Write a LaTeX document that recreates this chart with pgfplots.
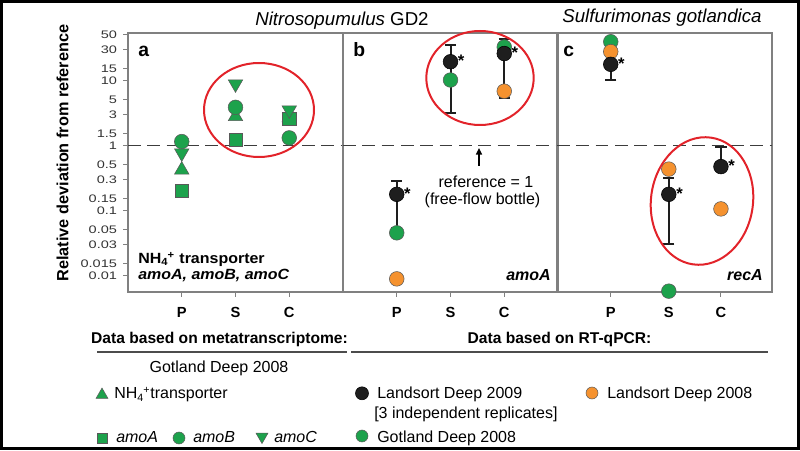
\documentclass[border=0pt]{standalone}
\usepackage{fontspec}
\setmainfont{Liberation Sans}
\usepackage{pgfplots}
\pgfplotsset{compat=1.18}
\usetikzlibrary{shapes.geometric,arrows.meta}

\definecolor{mgreen}{HTML}{1DA24C}
\definecolor{morange}{HTML}{F5922F}
\definecolor{mblack}{HTML}{1E1E1E}
\definecolor{framegray}{HTML}{808080}
\definecolor{refgray}{HTML}{3C3C3C}
\definecolor{ringred}{HTML}{E2232A}

\pgfplotsset{
  mypanel/.style={
    scale only axis, width=161.25pt, height=194.25pt,
    ymin=0.00553, ymax=53.4, xmin=-1, xmax=3,
    axis line style={draw=framegray, line width=1pt},
    tick style={draw=framegray, line width=0.8pt},
    major tick length=3.75pt, tick align=outside,
    xtick pos=bottom, ytick pos=left,
    yminorticks=false, xminorticks=false,
    xticklabels={P,S,C},
    xticklabel style={font=\bfseries\fontsize{11}{13}\selectfont, yshift=-4pt},
    yticklabel style={font=\fontsize{8.2}{9}\selectfont, text=black!80,
      xscale=1.33, inner sep=0.6pt, xshift=-2.6pt},
  },
  gmark/.style={only marks, mark options={fill=mgreen, draw=black!65, line width=0.4pt}},
  gcirc/.style={gmark, mark=*, mark size=5.5pt},
  gsq/.style={gmark, mark=square*, mark size=4.9pt},
  gtri/.style={gmark, mark=triangle*, mark size=6.3pt},
  gdtri/.style={only marks, mark=triangle*, mark size=6.3pt,
    mark options={rotate=180, fill=mgreen, draw=black!65, line width=0.4pt}},
  ocirc/.style={only marks, mark=*, mark size=5.5pt,
    mark options={fill=morange, draw=black!65, line width=0.4pt}},
  bcirc/.style={only marks, mark=*, mark size=5.5pt,
    mark options={fill=mblack, draw=black, line width=0.4pt},
    nodes near coords={*},
    nodes near coords style={anchor=base west, inner sep=0pt, xshift=5.4pt, yshift=-3.6pt,
      font=\bfseries\fontsize{12.5}{12}\selectfont, text=black}},
  bars/.style={error bars/.cd, y dir=both, y explicit,
    error bar style={draw=mblack, line width=1.5pt},
    error mark options={rotate=90, mark size=4.2pt, line width=1.5pt, draw=mblack}},
  refline/.style={refgray, line width=1.1pt, dash pattern=on 9.5pt off 5pt, forget plot},
}

\begin{document}
\begin{tikzpicture}
\useasboundingbox (0,0) rectangle (600pt,337.5pt);

% (a) metatranscriptome, Gotland Deep 2008
\begin{axis}[mypanel, ymode=log, xtick={0,1,2},
  ytick={0.01,0.015,0.03,0.05,0.1,0.15,0.3,0.5,1,1.5,3,5,10,15,30,50},
  yticklabels={0.01,0.015,0.03,0.05,0.1,0.15,0.3,0.5,1,1.5,3,5,10,15,30,50},
  clip=false, at={(96pt,118.5pt)}, anchor=south west]
\addplot[gtri] coordinates {(0,0.417) (1,2.77) (2,2.65)};
\addplot[gsq] coordinates {(0,0.198) (1,1.21) (2,2.55)};
\addplot[gdtri] coordinates {(0,0.76) (1,8.77) (2,3.49)};
\addplot[gcirc] coordinates {(0,1.14) (1,3.84) (2,1.30)};
\addplot[refline] coordinates {(-1,1) (3,1)};
\end{axis}

% (b) amoA, RT-qPCR
\begin{axis}[mypanel, ymode=log, xtick={0,1,2}, ytick=\empty,
  clip=false, at={(257.25pt,118.5pt)}, anchor=south west]
\addplot[gcirc] coordinates {(0,0.045) (1,10.1) (2,32.5)};
\addplot[ocirc] coordinates {(0,0.0088) (2,6.8)};
\addplot[bcirc, bars] coordinates {
  (0,0.176) += (0,0.106) -= (0,0.123)
  (1,19.3)  += (0,15.6)  -= (0,16.2)
  (2,25.8)  += (0,17.4)  -= (0,20.5)
};
\addplot[refline] coordinates {(-1,1) (3,1)};
\end{axis}

% (c) recA, RT-qPCR
\begin{axis}[mypanel, ymode=log, xtick={0,1.08,2.05}, ytick=\empty,
  clip=false, at={(417.75pt,118.5pt)}, anchor=south west]
\addplot[gcirc] coordinates {(0,39.2) (1.08,0.0057)};
\addplot[ocirc] coordinates {(0,27.6) (1.08,0.43) (2.05,0.105)};
\addplot[bcirc, bars] coordinates {
  (0,17.6)     += (0,0)     -= (0,7.5)
  (1.08,0.176) += (0,0.141) -= (0,0.146)
  (2.05,0.47)  += (0,0.48)  -= (0,0)
};
\addplot[refline] coordinates {(-1,1) (3,1)};
\end{axis}

\begin{scope}[x=0.75pt,y=0.75pt]
\draw[line width=2.25pt] (1.5,1.5) rectangle (798.5,448.5);

% titles
\node[anchor=base, inner sep=0, font=\fontsize{14}{16}\selectfont] at (342,424)
  {\textit{Nitrosopumulus} GD2};
\node[anchor=base, inner sep=0, font=\fontsize{14}{16}\selectfont\itshape] at (662,427.3)
  {Sulfurimonas gotlandica};
\node[rotate=90, inner sep=0, font=\bfseries\fontsize{12.2}{14}\selectfont] at (62.5,297)
  {Relative deviation from reference};

% panel letters and labels
\node[anchor=base west, inner sep=0, font=\bfseries\fontsize{14.5}{16}\selectfont] at (138,393) {a};
\node[anchor=base west, inner sep=0, font=\bfseries\fontsize{14.5}{16}\selectfont] at (353,393) {b};
\node[anchor=base west, inner sep=0, font=\bfseries\fontsize{14.5}{16}\selectfont] at (563,393) {c};
\node[anchor=base west, inner sep=0, xscale=1.08, font=\bfseries\fontsize{11.1}{13}\selectfont] at (138,186.2)
  {NH\textsubscript{4}\kern-0.4pt\textsuperscript{+} transporter};
\node[anchor=base west, inner sep=0, xscale=1.08, font=\bfseries\itshape\fontsize{11.1}{13}\selectfont] at (138,170.3)
  {amoA, amoB, amoC};
\node[anchor=base east, inner sep=0, font=\bfseries\itshape\fontsize{12}{14}\selectfont] at (551,169) {amoA};
\node[anchor=base east, inner sep=0, font=\bfseries\itshape\fontsize{12}{14}\selectfont] at (763,169) {recA};
\node[anchor=base, inner sep=0, font=\fontsize{12}{14}\selectfont] at (486,262.7) {reference = 1};
\node[anchor=base, inner sep=0, font=\fontsize{12}{14}\selectfont] at (482.5,245) {(free-flow bottle)};
\draw[-{Triangle[length=5pt,width=4.5pt]}, line width=1.1pt] (479,284) -- (479,302);

% red rings
\draw[ringred, line width=1.5pt] (259,340) ellipse [x radius=55, y radius=47];
\draw[ringred, line width=1.5pt] (480,372) ellipse [x radius=53.7, y radius=47];
\draw[ringred, line width=1.5pt, rotate around={-8:(702,249)}] (702,249) ellipse [x radius=51, y radius=64];

% legend block
\node[anchor=base, inner sep=0, font=\bfseries\fontsize{11.7}{14}\selectfont] at (219.5,106.5)
  {Data based on metatranscriptome:};
\node[anchor=base, inner sep=0, font=\bfseries\fontsize{11.7}{14}\selectfont] at (559.5,106.5)
  {Data based on RT-qPCR:};
\draw[black!70, line width=1.1pt] (97,98) -- (347,98);
\draw[black!70, line width=1.1pt] (351,98) -- (768,98);
\node[anchor=base, inner sep=0, font=\fontsize{12}{14}\selectfont] at (219,77.3) {Gotland Deep 2008};

\node[regular polygon, regular polygon sides=3, fill=mgreen, draw=black!65, inner sep=0,
  minimum size=10.4pt] at (102,55) {};
\node[anchor=base west, inner sep=0, font=\fontsize{12}{14}\selectfont] at (114,51)
  {NH\textsubscript{4}\kern-0.4pt\textsuperscript{+}transporter};
\node[rectangle, fill=mgreen, draw=black!65, inner sep=0, minimum size=7.5pt] at (102,12) {};
\node[anchor=base west, inner sep=0, font=\itshape\fontsize{12}{14}\selectfont] at (116,7.3) {amoA};
\node[circle, fill=mgreen, draw=black!65, inner sep=0, minimum size=9pt] at (179,12) {};
\node[anchor=base west, inner sep=0, font=\itshape\fontsize{12}{14}\selectfont] at (193,7.3) {amoB};
\node[regular polygon, regular polygon sides=3, shape border rotate=180, fill=mgreen,
  draw=black!65, inner sep=0, minimum size=10.4pt] at (262,13.4) {};
\node[anchor=base west, inner sep=0, font=\itshape\fontsize{12}{14}\selectfont] at (274,7.3) {amoC};

\node[circle, fill=mblack, draw=black, inner sep=0, minimum size=9.75pt] at (362,56.7) {};
\node[anchor=base west, inner sep=0, font=\fontsize{12}{14}\selectfont] at (377,51.7) {Landsort Deep 2009};
\node[anchor=base west, inner sep=0, font=\fontsize{12}{14}\selectfont] at (374,31.7) {[3 independent replicates]};
\node[circle, fill=mgreen, draw=black!65, inner sep=0, minimum size=9pt] at (362,14) {};
\node[anchor=base west, inner sep=0, font=\fontsize{12}{14}\selectfont] at (377,7.3) {Gotland Deep 2008};
\node[circle, fill=morange, draw=black!65, inner sep=0, minimum size=9pt] at (592,57) {};
\node[anchor=base west, inner sep=0, font=\fontsize{12}{14}\selectfont] at (607,51.7) {Landsort Deep 2008};
\end{scope}
\end{tikzpicture}
\end{document}
